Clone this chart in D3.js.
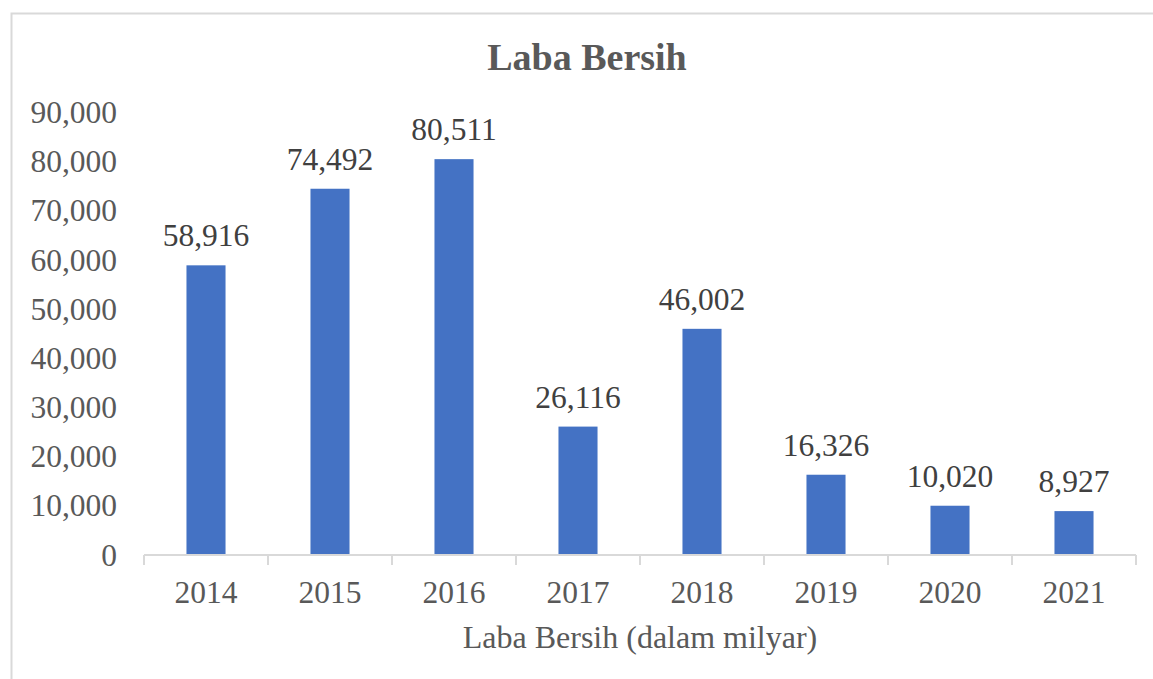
<!DOCTYPE html>
<html>
<head>
	<meta charset='utf-8'>
	<title>Laba Bersih</title>
	<script src='https://cdn.jsdelivr.net/npm/d3@7/dist/d3.min.js'></script>
	<style>
		body { margin: 0; background: #fff; }
	</style>
</head>
<body>
	<svg width='1153' height='679'></svg>
	<script>
		// data
		const years = ['2014', '2015', '2016', '2017', '2018', '2019', '2020', '2021']
		const labaBersih = [58916, 74492, 80511, 26116, 46002, 16326, 10020, 8927]
		const yTicks = [0, 10000, 20000, 30000, 40000, 50000, 60000, 70000, 80000, 90000]

		const dataset = years.map((y, i) => ({ year: y, value: labaBersih[i] }))

		const plot = { left: 144, right: 1136, top: 112.5, bottom: 555 }
		const font = "'Liberation Serif', 'Times New Roman', serif"

		const svg = d3.select('svg')

		// chart border (runs off the right/bottom edge like the source)
		svg.append('rect')
			.attr('x', 11.5).attr('y', 13.5)
			.attr('width', 1160).attr('height', 700)
			.attr('fill', 'none').attr('stroke', '#d9d9d9').attr('stroke-width', 2)

		const xScale = d3.scaleBand()
			.domain(years)
			.range([plot.left, plot.right])
			.paddingInner(0.685)
			.paddingOuter(0.3425)

		const yScale = d3.scaleLinear()
			.domain([0, 90000])
			.range([plot.bottom, plot.top])

		// title
		svg.append('text')
			.attr('x', 587).attr('y', 70)
			.attr('text-anchor', 'middle')
			.attr('font-family', font).attr('font-size', 38).attr('font-weight', 'bold')
			.attr('fill', '#595959')
			.text('Laba Bersih')

		// y axis
		const yAxis = d3.axisLeft(yScale).tickValues(yTicks).tickSize(0).tickPadding(0)
			.tickFormat(d3.format(','))
		const gy = svg.append('g').attr('transform', 'translate(117,0)').call(yAxis)
		gy.select('.domain').remove()
		gy.selectAll('.tick text')
			.attr('font-family', font).attr('font-size', 31.5).attr('fill', '#595959')

		// bars
		svg.append('g').selectAll('rect')
			.data(dataset)
			.join('rect')
			.attr('x', d => xScale(d.year))
			.attr('y', d => yScale(d.value))
			.attr('width', xScale.bandwidth())
			.attr('height', d => yScale(0) - yScale(d.value))
			.attr('fill', '#4472c4')

		// data labels
		svg.append('g').selectAll('text')
			.data(dataset)
			.join('text')
			.attr('x', d => xScale(d.year) + xScale.bandwidth() / 2)
			.attr('y', d => yScale(d.value) - 19)
			.attr('text-anchor', 'middle')
			.attr('font-family', font).attr('font-size', 31.5).attr('fill', '#404040')
			.text(d => d3.format(',')(d.value))

		// x axis: line + ticks between categories
		const xAxis = d3.axisBottom(xScale).tickSize(0).tickPadding(0)
		const gx = svg.append('g').attr('transform', `translate(0,${plot.bottom})`).call(xAxis)
		gx.select('.domain').attr('stroke', '#d9d9d9').attr('stroke-width', 2)
			.attr('d', `M${plot.left},0H${plot.right}`)
		gx.selectAll('.tick text')
			.attr('dy', 0).attr('y', 48)
			.attr('font-family', font).attr('font-size', 31.5).attr('fill', '#595959')

		const edges = years.map(y => xScale(y) - xScale.step() * xScale.paddingInner() / 2)
		edges.push(plot.right)
		gx.append('g').selectAll('line')
			.data(edges)
			.join('line')
			.attr('x1', d => d).attr('x2', d => d)
			.attr('y1', 0).attr('y2', 10)
			.attr('stroke', '#d9d9d9').attr('stroke-width', 2)

		// axis title
		svg.append('text')
			.attr('x', (plot.left + plot.right) / 2).attr('y', 648)
			.attr('text-anchor', 'middle')
			.attr('font-family', font).attr('font-size', 32).attr('fill', '#595959')
			.text('Laba Bersih (dalam milyar)')
	</script>
</body>
</html>
